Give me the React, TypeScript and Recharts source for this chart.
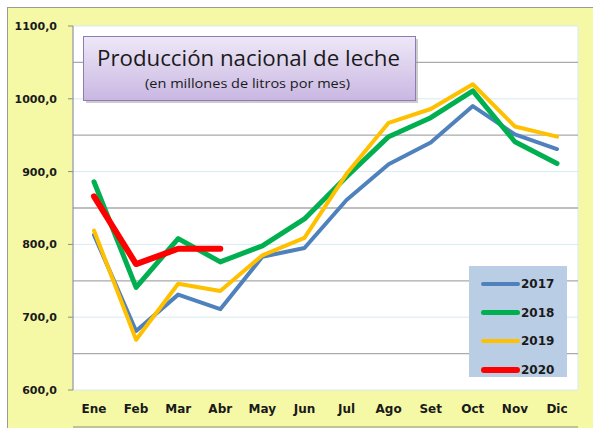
import React from 'react';
import { LineChart, Line, XAxis, YAxis, CartesianGrid, ReferenceLine, Legend } from 'recharts';

const meses = ['Ene', 'Feb', 'Mar', 'Abr', 'May', 'Jun', 'Jul', 'Ago', 'Set', 'Oct', 'Nov', 'Dic'];
const serie2017 = [813, 681, 731, 711, 783, 795, 861, 910, 940, 990, 951, 931];
const serie2018 = [886, 741, 808, 776, 798, 835, 893, 948, 974, 1011, 941, 911];
const serie2019 = [819, 669, 746, 736, 785, 809, 897, 967, 986, 1020, 962, 948];
const serie2020 = [866, 773, 794, 794];
const yTicks = [600, 700, 800, 900, 1000, 1100];
const yMinor = [650, 750, 850, 950, 1050];
const xBounds = [0, 1, 2, 3, 4, 5, 6, 7, 8, 9, 10, 11, 12];

const series = [
  { key: 'y2017', name: '2017', color: '#4F81BD', width: 4 },
  { key: 'y2018', name: '2018', color: '#00B050', width: 5 },
  { key: 'y2019', name: '2019', color: '#FFC000', width: 4 },
  { key: 'y2020', name: '2020', color: '#FF0000', width: 6 },
];

const data = meses.map((m, i) => ({
  mes: m,
  y2017: serie2017[i],
  y2018: serie2018[i],
  y2019: serie2019[i],
  y2020: i < serie2020.length ? serie2020[i] : null,
}));

const fmt = (v: number) => v.toFixed(1).replace('.', ',');

const LegendBox = () => (
  <div style={{ width: 98, height: 111, background: '#B9CDE5', boxSizing: 'border-box', paddingTop: 4 }}>
    {series.map((s) => (
      <div key={s.key} style={{ display: 'flex', alignItems: 'center', height: 28.5, marginLeft: 12 }}>
        <div style={{ width: 39, height: s.width, background: s.color, borderRadius: s.width / 2 }} />
        <span style={{ fontFamily: 'DejaVu Sans', fontWeight: 'bold', fontSize: 12, color: '#1a1a1a', marginLeft: 1 }}>{s.name}</span>
      </div>
    ))}
  </div>
);

export default function App() {
  return (
    <div style={{ position: 'absolute', left: 0, top: 0, width: 593, height: 428, background: '#fff', overflow: 'hidden' }}>
      <div style={{ position: 'absolute', left: 7, top: 7, width: 600, height: 440, background: '#F5F9A6', borderTop: '1px solid #9a9a9a', borderLeft: '1px solid #9a9a9a' }} />
      <div style={{ position: 'absolute', left: 0, top: 0 }}>
        <LineChart width={593} height={428} data={data} margin={{ top: 26, right: 15, bottom: 0, left: 0 }}>
          <XAxis xAxisId="grid" type="number" domain={[0, 12]} ticks={xBounds} tick={false} height={1}
            tickSize={5} axisLine={{ stroke: '#8a8a8a' }} tickLine={{ stroke: '#8a8a8a' }} allowDataOverflow />
          <XAxis dataKey="mes" type="category" height={37} padding={{ left: 21, right: 21 }} axisLine={false} tickLine={false}
            tickSize={0} tickMargin={14} interval={0}
            tick={{ fontFamily: 'DejaVu Sans', fontWeight: 'bold', fontSize: 12, fill: '#1a1a1a' }} />
          <YAxis domain={[600, 1100]} ticks={yTicks} width={73} tickSize={5} tickMargin={11} tickFormatter={fmt}
            axisLine={{ stroke: '#8a8a8a' }} tickLine={{ stroke: '#8a8a8a' }} allowDataOverflow
            tick={{ fontFamily: 'DejaVu Sans', fontWeight: 'bold', fontSize: 11, fill: '#1a1a1a' }} />
          <CartesianGrid xAxisId="grid" stroke="#D6EBF2" fill="#ffffff" />
          {yMinor.map((v) => (
            <ReferenceLine key={v} y={v} stroke="#AAAAAA" strokeWidth={1.3} />
          ))}
          {series.map((s) => (
            <Line key={s.key} dataKey={s.key} name={s.name} stroke={s.color} strokeWidth={s.width} dot={false}
              activeDot={false} isAnimationActive={false} strokeLinejoin="round" strokeLinecap="round" connectNulls={false} />
          ))}
          <Legend content={<LegendBox />} layout="vertical" align="center" verticalAlign="middle"
            wrapperStyle={{ position: 'absolute', left: 469, top: 266, width: 98, height: 111 }} />
        </LineChart>
      </div>
      <svg style={{ position: 'absolute', left: 0, top: 0 }} width={593} height={428}>
        <defs>
          <linearGradient id="tg" x1="0" y1="0" x2="0" y2="1">
            <stop offset="0" stopColor="#EEE8F7" />
            <stop offset="1" stopColor="#C9B7E2" />
          </linearGradient>
        </defs>
        <rect x={86} y={39} width={332} height={64} fill="#9a9a9a" opacity={0.5} />
        <rect x={83.5} y={36.5} width={332} height={64} fill="url(#tg)" stroke="#8E7AB5" strokeWidth={1} />
        <text x={97} y={66} fontFamily="Open Sans" fontSize={22} fill="#1a1a1a" textLength={303} lengthAdjust="spacingAndGlyphs">Producción nacional de leche</text>
        <text x={145} y={88} fontFamily="Open Sans" fontSize={12.5} fill="#1a1a1a" textLength={205} lengthAdjust="spacingAndGlyphs">(en millones de litros por mes)</text>
      </svg>
    </div>
  );
}
